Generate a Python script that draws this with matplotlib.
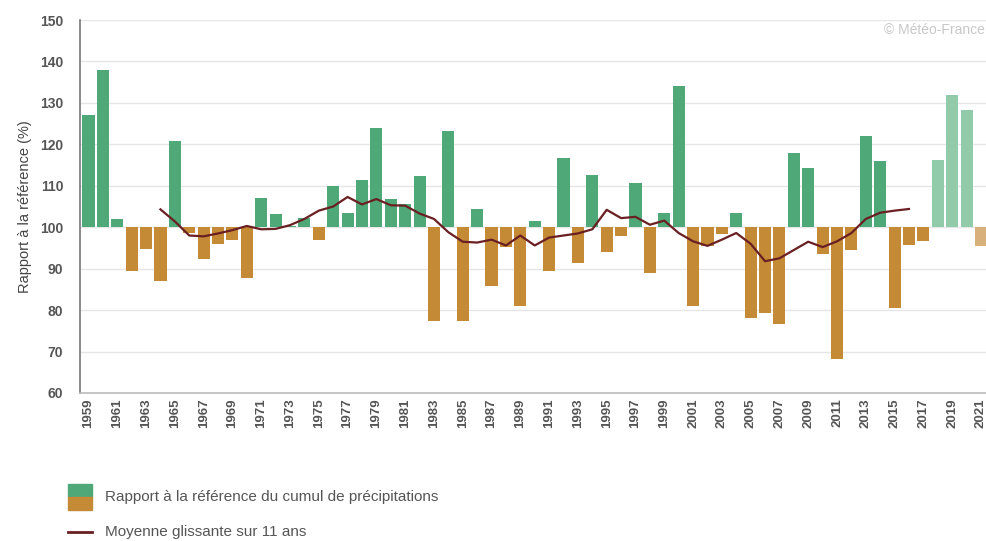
import numpy as np
import matplotlib
matplotlib.use('Agg')
import matplotlib.pyplot as plt
from matplotlib.patches import Rectangle
from matplotlib.lines import Line2D

plt.rcParams['font.family'] = ['Liberation Sans', 'DejaVu Sans']

# Annual precipitation ratio to the reference (%)
years = list(range(1959, 2022))
ratio = [127, 138, 102, 89.4, 94.8, 87, 120.7, 98.5, 92.3, 95.9,
         96.8, 87.7, 107, 103.1, 100.3, 102.2, 96.8, 110, 103.4, 111.5,
         124, 106.7, 105.5, 112.3, 77.3, 123.1, 77.3, 104.3, 85.8, 95.3,
         81, 101.4, 89.4, 116.6, 91.4, 112.7, 94, 97.8, 110.6, 89,
         103.4, 134, 81, 95.4, 98.3, 103.4, 78.1, 79.3, 76.6, 117.9,
         114.3, 93.5, 68.2, 94.6, 122, 115.9, 80.5, 95.8, 96.6, 116.3,
         132, 128.4, 95.4]
provisional_from = 2018

# 11-year moving average
ma_years = list(range(1964, 2017))
ma_values = [104.3, 101.4, 98, 97.8, 98.5, 99.3, 100.3, 99.5, 99.6, 100.5,
             102, 104, 105, 107.3, 105.5, 106.8, 105.3, 105.2, 103.3, 102,
             98.8, 96.5, 96.3, 97, 95.6, 98, 95.6, 97.5, 98, 98.5,
             99.5, 104.2, 102.2, 102.5, 100.6, 101.6, 98.6, 96.6, 95.5, 97,
             98.6, 96, 91.8, 92.5, 94.5, 96.5, 95.2, 96.6, 98.6, 102,
             103.5, 104, 104.4]

ref = 100
green = '#4fa878'
brown = '#c58a36'
green_light = '#92cba9'
brown_light = '#d8b07c'

fig = plt.figure(figsize=(9.87, 5.41), dpi=100)
ax = fig.add_axes([80 / 987, 148 / 541, 907 / 987, 373 / 541])

for y, v in zip(years, ratio):
    prov = y >= provisional_from
    if v >= ref:
        c = green_light if prov else green
    else:
        c = brown_light if prov else brown
    ax.bar(y, v - ref, bottom=ref, width=0.84, color=c, zorder=2)

ax.plot(ma_years, ma_values, color='#6a1f22', lw=1.6, zorder=3)

ax.set_ylim(60, 150)
ax.set_xlim(1958.41, 2021.42)
ax.set_yticks(range(60, 151, 10))
ax.set_xticks(years[::2])
ax.set_xticklabels([str(y) for y in years[::2]], rotation=90,
                   fontsize=9.5, color='#555555', fontweight='bold')
ax.tick_params(axis='y', labelsize=10, labelcolor='#555555', length=0, pad=12)
ax.tick_params(axis='x', length=0, pad=4)
for lab in ax.get_yticklabels():
    lab.set_fontweight('bold')
ax.yaxis.grid(True, color='#e6e6e6', lw=1, zorder=0)
ax.set_axisbelow(True)
for s in ['top', 'right']:
    ax.spines[s].set_visible(False)
ax.spines['left'].set_color('#777777')
ax.spines['bottom'].set_color('#bbbbbb')
ax.spines['left'].set_linewidth(1.2)
ax.spines['bottom'].set_linewidth(1.2)
ax.set_ylabel('Rapport à la référence (%)', fontsize=10.5, color='#444444', labelpad=6)

fig.text(0.998, 0.945, '© Météo-France', ha='right', va='center',
         fontsize=10, color='#c8c8c8')

# legend
fig.patches.append(Rectangle((68 / 987, 1 - 497 / 541), 24 / 987, 13 / 541,
                             transform=fig.transFigure, color=green))
fig.patches.append(Rectangle((68 / 987, 1 - 510 / 541), 24 / 987, 13 / 541,
                             transform=fig.transFigure, color=brown))
fig.text(105 / 987, 1 - 497 / 541, 'Rapport à la référence du cumul de précipitations',
         fontsize=11, color='#555555', va='center')
fig.lines.append(Line2D([68 / 987, 92 / 987], [1 - 532 / 541, 1 - 532 / 541],
                        transform=fig.transFigure, color='#6a1f22', lw=2))
fig.text(105 / 987, 1 - 532 / 541, 'Moyenne glissante sur 11 ans',
         fontsize=11, color='#555555', va='center')

fig.savefig('out.png', dpi=100)
